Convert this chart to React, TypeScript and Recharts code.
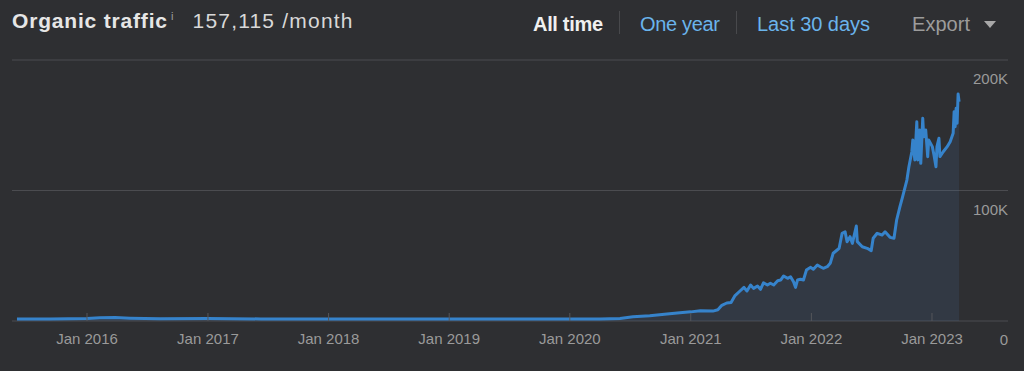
import React from "react";
import { AreaChart, Area, XAxis, YAxis, CartesianGrid } from "recharts";

// organic traffic (visits / month)
const dates = [
  "2015-06-03", "2015-09-11", "2016-01-01", "2016-02-09", "2016-03-26", "2016-05-10", "2016-08-09",
  "2017-01-01", "2017-06-10", "2018-01-01", "2018-07-01", "2019-01-01", "2019-07-01", "2020-01-01",
  "2020-04-01", "2020-06-01", "2020-07-10", "2020-08-30", "2020-10-21", "2020-11-29",
  "2021-01-01", "2021-01-30", "2021-03-09", "2021-03-24", "2021-04-05", "2021-04-20", "2021-05-03",
  "2021-05-15", "2021-05-30", "2021-06-11", "2021-06-20", "2021-07-01", "2021-07-10", "2021-07-22",
  "2021-07-31", "2021-08-09", "2021-08-21", "2021-08-30", "2021-09-09", "2021-09-21", "2021-09-30",
  "2021-10-09", "2021-10-21", "2021-10-30", "2021-11-08", "2021-11-14", "2021-11-20", "2021-11-29",
  "2021-12-08", "2021-12-17", "2021-12-29", "2022-01-07", "2022-01-19", "2022-01-28", "2022-02-06",
  "2022-02-18", "2022-02-27", "2022-03-08", "2022-03-20", "2022-03-26", "2022-04-04", "2022-04-13",
  "2022-04-19", "2022-04-28", "2022-05-05", "2022-05-17", "2022-05-20", "2022-06-04", "2022-06-19",
  "2022-07-01", "2022-07-07", "2022-07-19", "2022-08-03", "2022-08-12", "2022-08-27", "2022-09-08",
  "2022-09-16", "2022-09-26", "2022-10-04", "2022-10-17", "2022-10-23", "2022-11-01", "2022-11-04",
  "2022-11-10", "2022-11-16", "2022-11-19", "2022-11-25", "2022-11-28", "2022-12-04", "2022-12-07",
  "2022-12-13", "2022-12-19", "2022-12-22", "2023-01-02", "2023-01-07", "2023-01-13", "2023-01-16",
  "2023-01-22", "2023-01-25", "2023-02-04", "2023-02-16", "2023-02-25", "2023-03-06", "2023-03-09",
  "2023-03-12", "2023-03-15", "2023-03-18", "2023-03-21", "2023-03-24",
];
const traffic = [
  1500, 1600, 1900, 2400, 2600, 2200, 1800,
  1900, 1600, 1500, 1500, 1500, 1500, 1500,
  1600, 2000, 3200, 4000, 5300, 6300,
  7000, 7900, 7600, 8600, 12000, 13800, 14200,
  19500, 23000, 25800, 23000, 27600, 25000, 26800,
  24300, 29300, 27600, 28900, 27600, 30900, 31400,
  34500, 32700, 33900, 30100, 25800, 31400, 32000,
  31400, 39000, 41100, 39600, 42900, 41600, 40400,
  41600, 44200, 51900, 54400, 55700, 67200, 68400,
  60800, 64600, 59500, 72800, 60800, 56900, 55700,
  53900, 63400, 67200, 65900, 68400, 64100, 63400,
  77400, 87600, 95200, 108000, 118000, 129700, 138700,
  123400, 152700, 123400, 146400, 120800, 155300, 141200,
  146400, 125900, 138700, 133600, 127200, 118200, 133600,
  140000, 126000, 129700, 133600, 137400, 143800, 160400,
  148900, 163000, 151500, 174000, 168000,
];

const xDomain = ["2015-05-19", "2023-08-19"];
const xTickDates = [
  "2016-01-01", "2017-01-01", "2018-01-01", "2019-01-01",
  "2020-01-01", "2021-01-01", "2022-01-01", "2023-01-01",
];
const xTickLabels = [
  "Jan 2016", "Jan 2017", "Jan 2018", "Jan 2019",
  "Jan 2020", "Jan 2021", "Jan 2022", "Jan 2023",
];
const yTicks = [0, 100000, 200000];
const yTickLabels = ["0", "100K", "200K"];

const data = dates.map((d, i) => ({ t: Date.parse(d), v: traffic[i] }));
const xTicks = xTickDates.map((d) => Date.parse(d));

const FONT = "'Liberation Sans', Arial, Helvetica, sans-serif";
const BG = "#2e2f32";

const XTick = (props: any) => {
  const { x, y, payload } = props;
  const idx = xTicks.indexOf(payload.value);
  return (
    <g>
      <line x1={x} x2={x} y1={y - 8} y2={y} stroke="#55565a" strokeWidth={1} />
      <text x={x} y={y + 23} textAnchor="middle" fill="#9a9a9a" fontSize={15} fontFamily={FONT}>
        {xTickLabels[idx] ?? ""}
      </text>
    </g>
  );
};

const YTick = (props: any) => {
  const { x, y, payload } = props;
  const idx = yTicks.indexOf(payload.value);
  return (
    <text x={x} y={y + 24} textAnchor="end" fill="#9a9a9a" fontSize={15} fontFamily={FONT}>
      {yTickLabels[idx] ?? ""}
    </text>
  );
};

export default function App() {
  return (
    <div style={{ position: "fixed", left: 0, top: 0, width: 1024, height: 371, background: BG, fontFamily: FONT }}>
      <svg width={1024} height={50} style={{ position: "absolute", left: 0, top: 0 }}>
        <text x={12} y={27.5} fontSize={21} fontWeight="bold" fill="#e6e6e6" textLength={155} lengthAdjust="spacing">
          Organic traffic
        </text>
        <text x={171} y={20} fontSize={11} fill="#a0a0a0">i</text>
        <text x={192.5} y={28} fontSize={21} fill="#d8d8d8" textLength={160} lengthAdjust="spacing">
          157,115 /month
        </text>
        <text x={533} y={30.5} fontSize={20} fontWeight="bold" fill="#f0f0f0" textLength={70} lengthAdjust="spacing">
          All time
        </text>
        <line x1={619.5} x2={619.5} y1={11} y2={34} stroke="#48494c" />
        <text x={640} y={30.5} fontSize={20} fill="#6ab4ec" textLength={80} lengthAdjust="spacing">
          One year
        </text>
        <line x1={736.5} x2={736.5} y1={11} y2={34} stroke="#48494c" />
        <text x={757} y={30.5} fontSize={20} fill="#6ab4ec" textLength={113} lengthAdjust="spacing">
          Last 30 days
        </text>
        <text x={912} y={30.5} fontSize={20} fill="#9c9c9c" textLength={58} lengthAdjust="spacing">
          Export
        </text>
        <polygon points="984,21 996,21 990,28" fill="#a8a8a8" />
      </svg>
      <div style={{ position: "absolute", left: 0, top: 0 }}>
        <AreaChart width={1024} height={371} data={data} margin={{ top: 60, right: 15, bottom: 20, left: 12 }}>
          <CartesianGrid horizontal vertical={false} stroke="#4b4c50" />
          <XAxis
            dataKey="t"
            type="number"
            domain={xDomain.map((d) => Date.parse(d))}
            allowDataOverflow
            ticks={xTicks}
            height={30}
            tickSize={0}
            tickMargin={0}
            tickLine={false}
            axisLine={false}
            tick={<XTick />}
            interval={0}
          />
          <YAxis
            orientation="right"
            width={1}
            domain={[0, 200000]}
            ticks={yTicks}
            tickSize={0}
            tickMargin={0}
            tickLine={false}
            axisLine={false}
            tick={<YTick />}
            interval={0}
          />
          <Area
            type="linear"
            dataKey="v"
            stroke="#3683cb"
            strokeWidth={3}
            strokeLinejoin="round"
            fill="#4a6a95"
            fillOpacity={0.18}
            dot={false}
            activeDot={false}
            isAnimationActive={false}
          />
        </AreaChart>
      </div>
    </div>
  );
}
